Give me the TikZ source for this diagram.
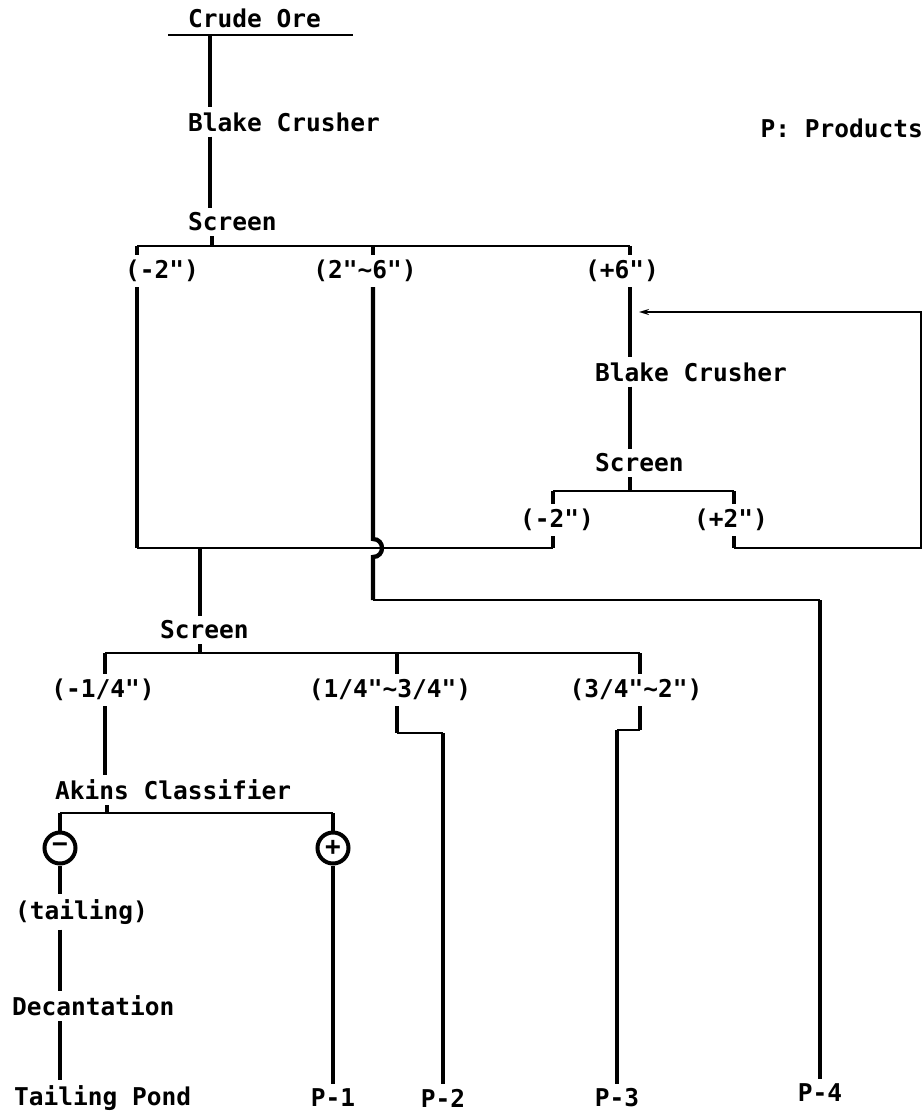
\documentclass[tikz,border=0pt]{standalone}
\usepackage{fontspec}
\newfontfamily\flowfont{DejaVu Sans Mono}
\usetikzlibrary{arrows.meta,calc}

\begin{document}
\begin{tikzpicture}[x=1pt,y=-1pt,>={Stealth[length=10pt,width=6pt]},
  lbl/.style={font=\flowfont\bfseries\fontsize{24.5}{26}\selectfont,inner xsep=0pt,inner ysep=5pt},
  flow/.style={line width=4.3pt},
  link/.style={line width=1.6pt},
  sign/.style={circle,draw,line width=4pt,minimum size=31pt,inner sep=0pt,font=\flowfont\bfseries\fontsize{26}{26}\selectfont}]
\useasboundingbox (0,0) rectangle (923,1118);
% text
\node[lbl,anchor=west] (ore) at (188,18) {Crude Ore};
\node[lbl,anchor=west] (crusherA) at (188,122) {Blake Crusher};
\node[lbl,anchor=west] (screenA) at (188,222) {Screen};
\node[lbl,anchor=east] (legend) at (923,128) {P: Products};
\node[lbl] (minusA) at (162,271) {(-2")};
\node[lbl] (midA) at (365,271) {(2"∼6")};
\node[lbl] (plusA) at (622,271) {(+6")};
\node[lbl,anchor=west] (crusherB) at (595,372) {Blake Crusher};
\node[lbl,anchor=west] (screenB) at (595,463) {Screen};
\node[lbl] (minusB) at (557,520) {(-2")};
\node[lbl] (plusB) at (731,520) {(+2")};
\node[lbl,anchor=west] (screenC) at (160,630) {Screen};
\node[lbl] (fineC) at (103,690) {(-1/4")};
\node[lbl] (midC) at (390,690) {(1/4"∼3/4")};
\node[lbl] (coarseC) at (636,690) {(3/4"∼2")};
\node[lbl,anchor=west] (akins) at (55,790) {Akins Classifier};
\node[sign] (neg) at (60,848) {−};
\node[sign] (pos) at (333,848) {+};
\node[lbl,anchor=west] (tailing) at (15,912) {(tailing)};
\node[lbl,anchor=west] (decant) at (12,1006) {Decantation};
\node[lbl,anchor=west] (pond) at (14,1098) {Tailing Pond};
\node[lbl] (pOne) at (333,1098) {P-1};
\node[lbl] (pTwo) at (443,1098) {P-2};
\node[lbl] (pThree) at (617,1098) {P-3};
\node[lbl] (pFour) at (820,1093) {P-4};
% junctions
\coordinate (oreL) at (168,35); \coordinate (oreR) at (353,35); \coordinate (t) at (210,35);
\coordinate (busA) at (212,246); \coordinate (aL) at (137,246); \coordinate (aM) at (373,246); \coordinate (aR) at (630,246);
\coordinate (feed) at (921,312);
\coordinate (busB) at (630,491); \coordinate (bL) at (553,491); \coordinate (bR) at (734,491);
\coordinate (join) at (200,548); \coordinate (hop) at (373,548); \coordinate (side) at (820,600);
\coordinate (busC) at (200,653); \coordinate (cL) at (105,653); \coordinate (cM) at (397,653); \coordinate (cR) at (640,653);
\coordinate (busD) at (107,813); \coordinate (dL) at (60,813); \coordinate (dR) at (333,813);
\coordinate (jogM) at (443,733); \coordinate (jogR) at (617,730);
% crude ore to first screen
\draw[link] (oreL) -- (oreR);
\draw[flow] (t) -- (t |- crusherA.north);
\draw[flow] (t |- crusherA.south) -- (t |- screenA.north);
\draw[flow] (busA |- screenA.south) -- (busA);
\draw[link] (aL) -- (aR);
\draw[flow] (aL) -- (aL |- minusA.north);
\draw[flow] (aM) -- (aM |- midA.north);
\draw[flow] (aR) -- (aR |- plusA.north);
% +6" loop
\draw[flow] (aR |- plusA.south) -- (aR |- crusherB.north);
\draw[flow] (aR |- crusherB.south) -- (aR |- screenB.north);
\draw[flow] (busB |- screenB.south) -- (busB);
\draw[link] (bL) -- (bR);
\draw[flow] (bL) -- (bL |- minusB.north);
\draw[flow] (bR) -- (bR |- plusB.north);
\draw[flow] (bR |- plusB.south) -- (bR |- join);
\draw[link,->] (bR |- join) -- (feed |- join) -- (feed) -- ($(aR |- feed)+(9,0)$);
% -2" streams join
\draw[flow] (aL |- minusA.south) -- (aL |- join);
\draw[flow] (bL |- minusB.south) -- (bL |- join);
\draw[link] (aL |- join) -- (bL |- join);
% 2"~6" to P-4, hopping the join line
\draw[flow] (aM |- midA.south) -- ($(hop)+(0,-9)$) .. controls +(12,0) and +(12,0) .. ($(hop)+(0,9)$) -- (aM |- side);
\draw[link] (aM |- side) -- (side);
\draw[flow] (side) -- (pFour);
% second screen
\draw[flow] (join) -- (join |- screenC.north);
\draw[flow] (busC |- screenC.south) -- (busC);
\draw[link] (cL) -- (cR);
\draw[flow] (cL) -- (cL |- fineC.north);
\draw[flow] (cM) -- (cM |- midC.north);
\draw[flow] (cR) -- (cR |- coarseC.north);
\draw[flow] (cM |- midC.south) -- (cM |- jogM);
\draw[link] (cM |- jogM) -- (jogM);
\draw[flow] (jogM) -- (pTwo);
\draw[flow] (cR |- coarseC.south) -- (cR |- jogR);
\draw[link] (cR |- jogR) -- (jogR);
\draw[flow] (jogR) -- (pThree);
% classifier
\draw[flow] (cL |- fineC.south) -- (cL |- akins.north);
\draw[flow] (busD |- akins.south) -- (busD);
\draw[link] (dL) -- (dR);
\draw[flow] (dL) -- (neg);
\draw[flow] (dR) -- (pos);
\draw[flow] (neg) -- (neg |- tailing.north);
\draw[flow] (neg |- tailing.south) -- (neg |- decant.north);
\draw[flow] (neg |- decant.south) -- (neg |- pond.north);
\draw[flow] (pos) -- (pOne);
\end{tikzpicture}
\end{document}
